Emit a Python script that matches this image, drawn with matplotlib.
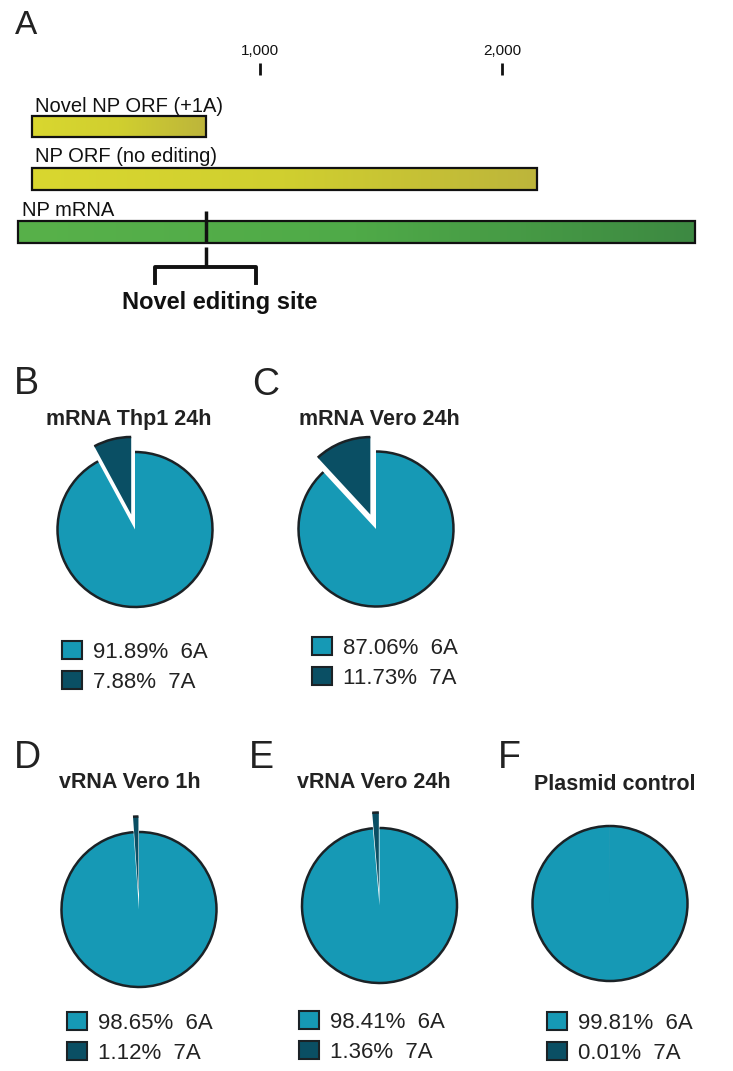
import matplotlib
matplotlib.use("Agg")
import matplotlib.pyplot as plt
import numpy as np
from matplotlib.patches import Rectangle, Arc, Patch
from matplotlib.colors import LinearSegmentedColormap

plt.rcParams['font.family'] = ['Liberation Sans', 'DejaVu Sans']

# ---------------- data ----------------
track_labels = ["Novel NP ORF (+1A)", "NP ORF (no editing)", "NP mRNA"]
track_start = [58, 58, 0]
track_end = [775, 2145, 2798]
edit_site = 775
scale_ticks = [1000, 2000]
scale_tick_labels = ["1,000", "2,000"]

panel_titles = ["mRNA Thp1 24h", "mRNA Vero 24h", "vRNA Vero 1h", "vRNA Vero 24h", "Plasmid control"]
panel_letters = ["B", "C", "D", "E", "F"]
pct_6A = [91.89, 87.06, 98.65, 98.41, 99.81]
pct_7A = [7.88, 11.73, 1.12, 1.36, 0.01]
allele_labels = ["6A", "7A"]

# ---------------- layout ----------------
W, H = 733, 1071
fig = plt.figure(figsize=(W / 100, H / 100), dpi=100)
fig.patch.set_facecolor('white')

def fx(x):
    return x / W

def fy(y):
    return 1 - y / H

# ---------------- panel A ----------------
px_per_nt = 0.242
x0_px = 18
axA = fig.add_axes([0, fy(330), 1, 330 / H])
axA.set_xlim(-x0_px / px_per_nt, (W - x0_px) / px_per_nt)
axA.set_ylim(330, 0)
axA.axis('off')

yellow = LinearSegmentedColormap.from_list('y', ['#d9d72f', '#d0cf2f', '#bdb53b'])
green = LinearSegmentedColormap.from_list('g', ['#58b14a', '#4faa48', '#3d8942'])
track_y = [(116, 137), (168, 190), (221, 243)]
track_cmaps = [yellow, yellow, green]
label_x_px = [35, 35, 22]
label_y = [106, 157, 210]
grad = np.linspace(0, 1, 256).reshape(1, -1)
for lab, s, e, (y0, y1), cm, lx, ly in zip(track_labels, track_start, track_end,
                                            track_y, track_cmaps, label_x_px, label_y):
    axA.imshow(grad, cmap=cm, extent=[s, e, y1, y0], aspect='auto', zorder=1,
               interpolation='bilinear')
    axA.add_patch(Rectangle((s, y0), e - s, y1 - y0, fill=False, ec='#111111',
                            lw=1.6, zorder=2))
    axA.text((lx - x0_px) / px_per_nt, ly, lab, fontsize=14.5, va='center',
             ha='left', color='#111111', zorder=3)

for t, tl in zip(scale_ticks, scale_tick_labels):
    axA.plot([t, t], [63, 75], color='#111111', lw=2, solid_capstyle='butt')
    axA.text(t, 51, tl, fontsize=11, ha='center', va='center', color='#111111')

# editing site mark and bracket
axA.plot([edit_site, edit_site], [211, 243], color='#111111', lw=2.5, zorder=4,
         solid_capstyle='butt')
half = 207
axA.plot([edit_site, edit_site], [247, 267], color='#111111', lw=2.5,
         solid_capstyle='butt')
axA.plot([edit_site - half, edit_site - half, edit_site + half, edit_site + half],
         [283, 267, 267, 283], color='#111111', lw=2.8, solid_joinstyle='round')
axA.text(edit_site + 60, 302, "Novel editing site", fontsize=17,
         fontweight='bold', ha='center', va='center', color='#111111')

fig.text(fx(15), fy(25), "A", fontsize=24, ha='left', va='center', color='#222222')

# ---------------- pie panels ----------------
teal = '#1699b5'
dark = '#0a4f64'
edge = '#1b2226'
R_px = 77.5
centers = [(135, 529.5), (376, 529), (139, 909.5), (379.5, 905.5), (610, 903.5)]
explodes = [0.2, 0.2, 0.2, 0.2, 0.0]
title_pos = [(129, 420), (379, 420), (130, 783), (374, 783), (615, 785)]
letter_pos = [(14, 384), (252, 385), (14, 758), (249, 758), (498, 758)]
legend_pos = [(62, 641), (312, 637), (67, 1012), (299, 1011), (547, 1012)]

half_ax = 100
lim = half_ax / R_px
for i in range(5):
    cx, cy = centers[i]
    ax = fig.add_axes([fx(cx - half_ax), fy(cy + half_ax), 2 * half_ax / W, 2 * half_ax / H])
    wedges, _ = ax.pie([pct_6A[i], pct_7A[i]], colors=[teal, dark], startangle=90,
                       counterclock=False, explode=[0, explodes[i]], radius=1,
                       wedgeprops=dict(linewidth=0))
    for w in wedges:
        ax.add_patch(Arc(w.center, 2 * w.r, 2 * w.r, theta1=w.theta1, theta2=w.theta2,
                         color=edge, lw=1.8, zorder=5))
    ax.set_xlim(-lim, lim)
    ax.set_ylim(-lim, lim)
    ax.set_aspect('equal')
    ax.axis('off')

    tx, ty = title_pos[i]
    fig.text(fx(tx), fy(ty), panel_titles[i], fontsize=15.5, fontweight='bold',
             ha='center', va='center', color='#222222')
    lx, ly = letter_pos[i]
    fig.text(fx(lx), fy(ly), panel_letters[i], fontsize=27, ha='left', va='center',
             color='#222222')

    handles = [Patch(facecolor=teal, edgecolor=edge, lw=1.5),
               Patch(facecolor=dark, edgecolor=edge, lw=1.5)]
    labels = [f"{pct_6A[i]:.2f}%  {allele_labels[0]}",
              f"{pct_7A[i]:.2f}%  {allele_labels[1]}"]
    gx, gy = legend_pos[i]
    fig.legend(handles, labels, loc='upper left', bbox_to_anchor=(fx(gx), fy(gy)),
               frameon=False, fontsize=16, handlelength=0.9, handleheight=0.85,
               handletextpad=0.5, labelspacing=0.4, borderpad=0, borderaxespad=0,
               labelcolor='#222222')

fig.savefig("out.png", dpi=100, facecolor='white')
